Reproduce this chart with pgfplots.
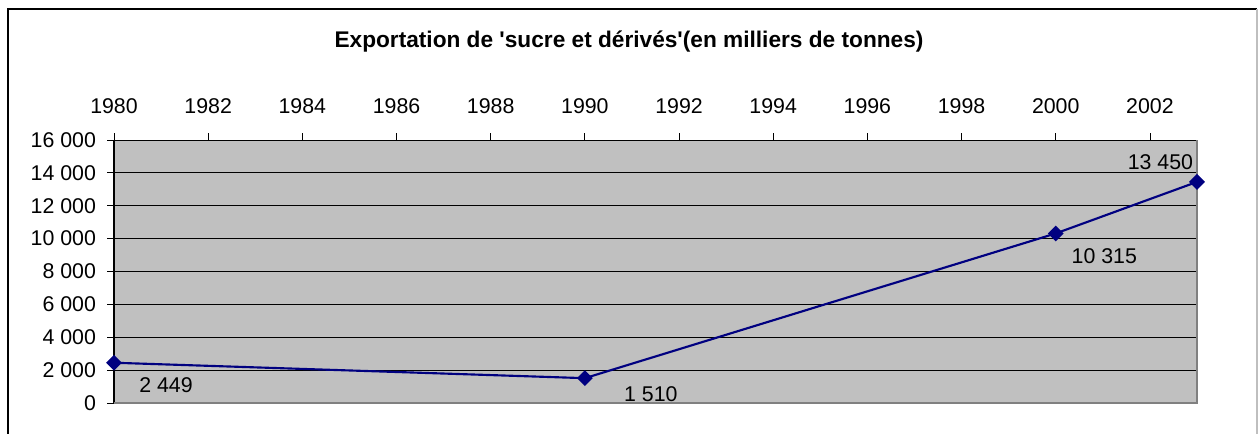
\documentclass[border=0pt]{standalone}
\usepackage{fontspec}
\setmainfont{Liberation Sans}
\usepackage{pgfplots}
\pgfplotsset{compat=1.18}
\definecolor{plotbg}{RGB}{192,192,192}
\definecolor{navyline}{RGB}{0,0,128}
\definecolor{edgegray}{RGB}{128,128,128}

\begin{document}
\begin{tikzpicture}
\useasboundingbox (0,0) rectangle (943.5pt,325.5pt);
% chart frame
\draw[black,line width=0.8pt] (6pt,-5pt) -- (6pt,318.75pt) -- (942.75pt,318.75pt);
\draw[gray!50,line width=0.8pt] (942.75pt,318.75pt) -- (942.75pt,-5pt);
\node[font=\fontsize{17}{20}\selectfont\bfseries] at (471.75pt,294pt)
  {Exportation de \textquotesingle sucre et dérivés\textquotesingle(en milliers de tonnes)};

\begin{axis}[
  at={(85.5pt,23.25pt)}, anchor=south west,
  width=812.25pt, height=197.25pt, scale only axis,
  xmin=1980, xmax=2003, ymin=0, ymax=16000,
  xtick={1980,1982,...,2002},
  ytick={0,2000,...,16000},
  scaled ticks=false,
  xtick pos=right, xticklabel pos=right,
  ytick pos=left,
  tick align=outside,
  major tick length=5pt,
  tick style={black,line width=0.6pt},
  axis line style={draw=none},
  axis background/.style={fill=plotbg},
  ymajorgrids,
  grid style={black,line width=0.7pt},
  /pgf/number format/assume math mode=true,
  ticklabel style={font=\fontsize{16}{19}\selectfont},
  xticklabel style={/pgf/number format/1000 sep={}, yshift=11pt},
  yticklabel style={/pgf/number format/1000 sep={\ }, xshift=-5pt},
  clip=false,
]
  \addplot[color=navyline,line width=1.6pt,mark=square*,
    mark options={rotate=45,fill=navyline,draw=navyline},mark size=3.4pt]
    coordinates {
    (1980, 2449)
    (1990, 1510)
    (2000, 10315)
    (2003, 13450)
  };
  % plot area edges
  \draw[black,line width=0.8pt] (rel axis cs:0,0) -- (rel axis cs:0,1);
  \draw[edgegray,line width=1.5pt] (rel axis cs:0,0) -- (rel axis cs:1,0) -- (rel axis cs:1,1);
  % data labels
  \begin{scope}[every node/.style={font=\fontsize{16}{19}\selectfont}]
  \node[xshift=39pt,yshift=-17pt] at (axis cs:1980,2449) {2 449};
  \node[xshift=49.5pt,yshift=-12pt] at (axis cs:1990,1510) {1 510};
  \node[xshift=36.4pt,yshift=-17pt] at (axis cs:2000,10315) {10 315};
  \node[xshift=-27.4pt,yshift=14.5pt] at (axis cs:2003,13450) {13 450};
  \end{scope}
\end{axis}
\end{tikzpicture}
\end{document}
